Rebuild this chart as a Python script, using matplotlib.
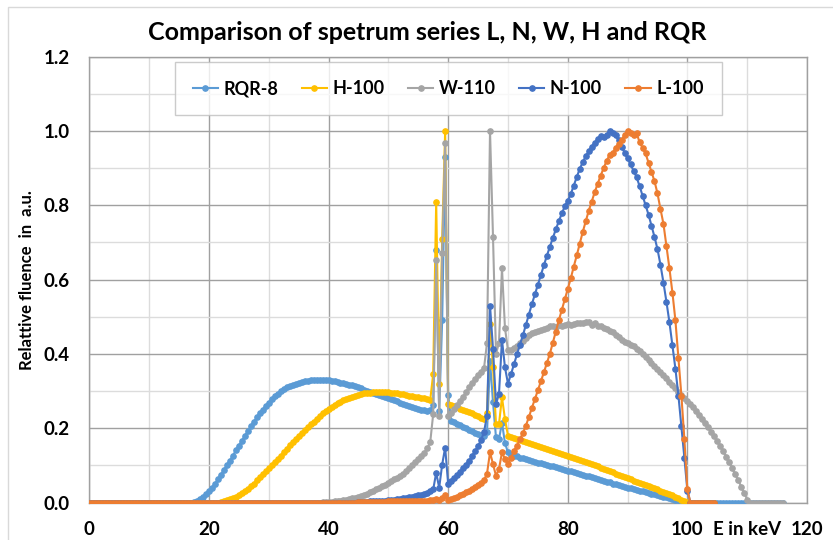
import numpy as np
import matplotlib
matplotlib.use("Agg")
import matplotlib.pyplot as plt
from matplotlib.ticker import MultipleLocator, FormatStrFormatter
from matplotlib.patches import Rectangle

plt.rcParams['font.family'] = ['Lato', 'DejaVu Sans']
plt.rcParams['font.weight'] = 'bold'

# energy grid in keV (0.5 keV bins), each series uses the first len(values) bins
energy = np.arange(0, 116.5, 0.5)

# RQR-8, one row = 5 keV (10 bins)
rqr8 = [
    0, 0, 0, 0, 0, 0, 0, 0, 0, 0,
    0, 0, 0, 0, 0, 0, 0, 0, 0, 0,
    0, 0, 0, 0, 0, 0, 0, 0, 0, 0,
    0, 0, 0, 0, 0, 0.001, 0.004, 0.009, 0.015, 0.022,
    0.03, 0.04, 0.05, 0.062, 0.075, 0.088, 0.1, 0.113, 0.126, 0.14,
    0.153, 0.166, 0.179, 0.192, 0.205, 0.217, 0.229, 0.24, 0.25, 0.26,
    0.269, 0.278, 0.286, 0.293, 0.299, 0.305, 0.31, 0.314, 0.317, 0.32,
    0.323, 0.325, 0.327, 0.328, 0.329, 0.33, 0.331, 0.331, 0.33, 0.33,
    0.329, 0.328, 0.327, 0.325, 0.323, 0.321, 0.319, 0.317, 0.315, 0.313,
    0.31, 0.307, 0.304, 0.301, 0.298, 0.296, 0.293, 0.29, 0.287, 0.284,
    0.281, 0.278, 0.275, 0.272, 0.269, 0.266, 0.263, 0.26, 0.257, 0.254,
    0.252, 0.25, 0.248, 0.246, 0.248, 0.262, 0.68, 0.245, 0.49, 0.93,
    0.29, 0.22, 0.216, 0.212, 0.208, 0.204, 0.2, 0.196, 0.192, 0.188,
    0.185, 0.182, 0.18, 0.19, 0.38, 0.27, 0.175, 0.17, 0.215, 0.16,
    0.135, 0.128, 0.126, 0.124, 0.121, 0.119, 0.117, 0.114, 0.112, 0.11,
    0.107, 0.105, 0.103, 0.101, 0.099, 0.097, 0.095, 0.093, 0.09, 0.088,
    0.086, 0.084, 0.082, 0.079, 0.077, 0.075, 0.072, 0.07, 0.068, 0.065,
    0.063, 0.061, 0.058, 0.056, 0.054, 0.051, 0.049, 0.047, 0.044, 0.042,
    0.04, 0.038, 0.036, 0.034, 0.032, 0.03, 0.028, 0.026, 0.024, 0.022,
    0.02, 0.018, 0.016, 0.014, 0.012, 0.01, 0.008, 0.006, 0.004, 0.002,
    0, 0, 0, 0, 0, 0, 0, 0, 0, 0,
    0, 0, 0, 0, 0, 0, 0, 0, 0, 0,
    0, 0, 0, 0, 0, 0, 0, 0, 0, 0,
    0, 0, 0,
]

h100 = [
    0, 0, 0, 0, 0, 0, 0, 0, 0, 0,
    0, 0, 0, 0, 0, 0, 0, 0, 0, 0,
    0, 0, 0, 0, 0, 0, 0, 0, 0, 0,
    0, 0, 0, 0, 0, 0, 0, 0, 0, 0,
    0, 0, 0, 0, 0.001, 0.003, 0.006, 0.009, 0.012, 0.016,
    0.02, 0.025, 0.031, 0.037, 0.044, 0.051, 0.06, 0.068, 0.076, 0.084,
    0.092, 0.1, 0.108, 0.117, 0.126, 0.135, 0.145, 0.155, 0.164, 0.172,
    0.18, 0.188, 0.196, 0.203, 0.21, 0.218, 0.226, 0.233, 0.24, 0.246,
    0.252, 0.257, 0.262, 0.267, 0.271, 0.275, 0.279, 0.282, 0.285, 0.288,
    0.29, 0.292, 0.294, 0.295, 0.296, 0.297, 0.298, 0.298, 0.298, 0.298,
    0.297, 0.296, 0.295, 0.294, 0.293, 0.291, 0.29, 0.288, 0.286, 0.284,
    0.283, 0.281, 0.28, 0.278, 0.276, 0.346, 0.81, 0.318, 0.71, 1.0,
    0.265, 0.262, 0.259, 0.256, 0.253, 0.25, 0.246, 0.243, 0.24, 0.236,
    0.232, 0.228, 0.225, 0.24, 0.48, 0.365, 0.211, 0.211, 0.283, 0.225,
    0.18, 0.177, 0.174, 0.171, 0.168, 0.165, 0.163, 0.16, 0.158, 0.155,
    0.153, 0.15, 0.147, 0.145, 0.142, 0.139, 0.136, 0.133, 0.13, 0.128,
    0.125, 0.122, 0.119, 0.117, 0.114, 0.111, 0.108, 0.105, 0.103, 0.1,
    0.097, 0.094, 0.091, 0.088, 0.084, 0.081, 0.078, 0.075, 0.071, 0.068,
    0.065, 0.062, 0.059, 0.056, 0.053, 0.05, 0.047, 0.044, 0.041, 0.038,
    0.035, 0.032, 0.029, 0.026, 0.023, 0.02, 0.016, 0.012, 0.008, 0.004,
    0.001, 0, 0, 0, 0, 0, 0, 0, 0, 0,
]

w110 = [
    0, 0, 0, 0, 0, 0, 0, 0, 0, 0,
    0, 0, 0, 0, 0, 0, 0, 0, 0, 0,
    0, 0, 0, 0, 0, 0, 0, 0, 0, 0,
    0, 0, 0, 0, 0, 0, 0, 0, 0, 0,
    0, 0, 0, 0, 0, 0, 0, 0, 0, 0,
    0, 0, 0, 0, 0, 0, 0, 0, 0, 0,
    0, 0, 0, 0, 0, 0, 0, 0, 0, 0,
    0, 0, 0, 0, 0, 0, 0, 0, 0.001, 0.001,
    0.002, 0.002, 0.003, 0.004, 0.005, 0.006, 0.007, 0.009, 0.011, 0.013,
    0.015, 0.018, 0.021, 0.024, 0.028, 0.032, 0.036, 0.04, 0.044, 0.048,
    0.052, 0.057, 0.062, 0.067, 0.072, 0.078, 0.085, 0.092, 0.1, 0.108,
    0.116, 0.125, 0.134, 0.146, 0.162, 0.238, 0.652, 0.234, 0.672, 0.968,
    0.234, 0.242, 0.252, 0.262, 0.273, 0.285, 0.297, 0.31, 0.322, 0.333,
    0.343, 0.352, 0.362, 0.43, 1.0, 0.715, 0.4, 0.43, 0.63, 0.47,
    0.41, 0.41, 0.415, 0.42, 0.428, 0.436, 0.443, 0.45, 0.455, 0.458,
    0.461, 0.464, 0.467, 0.47, 0.474, 0.476, 0.472, 0.478, 0.476, 0.479,
    0.48, 0.478, 0.481, 0.483, 0.482, 0.484, 0.486, 0.485, 0.478, 0.482,
    0.474, 0.476, 0.47, 0.468, 0.462, 0.458, 0.452, 0.445, 0.438, 0.432,
    0.428, 0.425, 0.42, 0.414, 0.408, 0.4, 0.392, 0.384, 0.376, 0.368,
    0.36, 0.352, 0.343, 0.334, 0.325, 0.316, 0.307, 0.298, 0.29, 0.282,
    0.274, 0.265, 0.256, 0.246, 0.236, 0.225, 0.214, 0.202, 0.19, 0.178,
    0.165, 0.152, 0.138, 0.123, 0.108, 0.092, 0.076, 0.06, 0.043, 0.026,
    0.008, 0, 0, 0, 0, 0, 0, 0, 0, 0,
    0, 0, 0,
]

n100 = [
    0, 0, 0, 0, 0, 0, 0, 0, 0, 0,
    0, 0, 0, 0, 0, 0, 0, 0, 0, 0,
    0, 0, 0, 0, 0, 0, 0, 0, 0, 0,
    0, 0, 0, 0, 0, 0, 0, 0, 0, 0,
    0, 0, 0, 0, 0, 0, 0, 0, 0, 0,
    0, 0, 0, 0, 0, 0, 0, 0, 0, 0,
    0, 0, 0, 0, 0, 0, 0, 0, 0, 0,
    0, 0, 0, 0, 0, 0, 0, 0, 0, 0,
    0, 0, 0, 0, 0, 0, 0, 0, 0, 0,
    0.001, 0.001, 0.002, 0.002, 0.003, 0.003, 0.004, 0.004, 0.005, 0.005,
    0.006, 0.007, 0.008, 0.009, 0.01, 0.011, 0.012, 0.014, 0.015, 0.017,
    0.019, 0.021, 0.023, 0.026, 0.03, 0.035, 0.08, 0.04, 0.102, 0.148,
    0.05, 0.058, 0.066, 0.074, 0.083, 0.092, 0.102, 0.113, 0.125, 0.138,
    0.152, 0.168, 0.19, 0.234, 0.53, 0.414, 0.265, 0.292, 0.438, 0.364,
    0.32, 0.345, 0.372, 0.4, 0.425, 0.45, 0.478, 0.506, 0.534, 0.56,
    0.585, 0.612, 0.638, 0.664, 0.688, 0.712, 0.735, 0.757, 0.778, 0.797,
    0.812, 0.83, 0.853, 0.876, 0.898, 0.916, 0.932, 0.945, 0.958, 0.968,
    0.978, 0.986, 0.983, 0.99, 1.0, 0.995, 0.988, 0.975, 0.958, 0.942,
    0.926, 0.91, 0.893, 0.876, 0.852, 0.826, 0.8, 0.775, 0.745, 0.715,
    0.682, 0.64, 0.592, 0.54, 0.485, 0.423, 0.36, 0.288, 0.205, 0.12,
    0.032, 0, 0, 0, 0, 0, 0, 0, 0, 0,
]

l100 = [
    0, 0, 0, 0, 0, 0, 0, 0, 0, 0,
    0, 0, 0, 0, 0, 0, 0, 0, 0, 0,
    0, 0, 0, 0, 0, 0, 0, 0, 0, 0,
    0, 0, 0, 0, 0, 0, 0, 0, 0, 0,
    0, 0, 0, 0, 0, 0, 0, 0, 0, 0,
    0, 0, 0, 0, 0, 0, 0, 0, 0, 0,
    0, 0, 0, 0, 0, 0, 0, 0, 0, 0,
    0, 0, 0, 0, 0, 0, 0, 0, 0, 0,
    0, 0, 0, 0, 0, 0, 0, 0, 0, 0,
    0.001, 0.001, 0.001, 0.001, 0.002, 0.002, 0.002, 0.002, 0.002, 0.002,
    0.003, 0.003, 0.003, 0.003, 0.003, 0.003, 0.004, 0.004, 0.004, 0.004,
    0.005, 0.005, 0.005, 0.005, 0.006, 0.006, 0.01, 0.006, 0.012, 0.02,
    0.008, 0.01, 0.013, 0.016, 0.019, 0.023, 0.027, 0.031, 0.036, 0.041,
    0.047, 0.053, 0.06, 0.078, 0.135, 0.104, 0.072, 0.09, 0.135, 0.117,
    0.104, 0.12, 0.138, 0.153, 0.17, 0.187, 0.207, 0.23, 0.255, 0.278,
    0.302, 0.326, 0.35, 0.375, 0.4, 0.43, 0.46, 0.49, 0.518, 0.547,
    0.575, 0.603, 0.635, 0.665, 0.697, 0.728, 0.757, 0.785, 0.81, 0.835,
    0.858, 0.88, 0.9, 0.92, 0.935, 0.94, 0.955, 0.965, 0.975, 0.99,
    1.0, 0.995, 0.99, 0.995, 0.97, 0.955, 0.94, 0.915, 0.89, 0.865,
    0.832, 0.79, 0.75, 0.69, 0.63, 0.565, 0.49, 0.39, 0.288, 0.17,
    0.035, 0, 0, 0, 0, 0, 0, 0, 0, 0,
]

series_names = ['RQR-8', 'H-100', 'W-110', 'N-100', 'L-100']
series_values = [rqr8, h100, w110, n100, l100]
colors = ['#5B9BD5', '#FFC000', '#A5A5A5', '#4472C4', '#ED7D31']

fig = plt.figure(figsize=(8.33, 5.40), dpi=100)
ax = fig.add_axes([89.3 / 833, 1 - 502.5 / 540, (807 - 89.3) / 833, (502.5 - 56.7) / 540])

for name, vals, c in zip(series_names, series_values, colors):
    ax.plot(energy[:len(vals)], vals, color=c, lw=1.5, marker='o', ms=3.8,
            label=name, zorder=3)

ax.set_xlim(0, 120)
ax.set_ylim(0, 1.2)
ax.xaxis.set_major_locator(MultipleLocator(20))
ax.xaxis.set_minor_locator(MultipleLocator(10))
ax.yaxis.set_major_locator(MultipleLocator(0.2))
ax.yaxis.set_minor_locator(MultipleLocator(0.1))
ax.yaxis.set_major_formatter(FormatStrFormatter('%.1f'))
ax.grid(which='major', color='#A0A0A0', lw=1)
ax.grid(which='minor', color='#DCDCDC', lw=1)
ax.set_axisbelow(True)
ax.tick_params(which='both', length=0)
ax.tick_params(axis='x', pad=13.5, labelsize=13.5)
ax.tick_params(axis='y', pad=14, labelsize=13.5)
for lab in ax.get_xticklabels() + ax.get_yticklabels():
    lab.set_fontweight('bold')
for s in ax.spines.values():
    s.set_color('#A0A0A0')
    s.set_linewidth(1)

ax.set_ylabel('Relattive fluence  in  a.u.', fontsize=12, fontweight='bold')
ax.yaxis.set_label_coords(-0.075, 0.5)

ax.annotate('E in keV', xy=(110, 0), xycoords=('data', 'axes fraction'),
            xytext=(0, -19.5), textcoords='offset points', ha='center', va='center',
            fontsize=13.5, fontweight='bold')

fig.text(427 / 833, 1 - 33 / 540, 'Comparison of spetrum series L, N, W, H and RQR',
         ha='center', va='center', fontsize=18, fontweight='bold')

leg = ax.legend(loc='upper center', bbox_to_anchor=(0.5, 0.988), ncol=5,
                frameon=True, fancybox=False, edgecolor='#BFBFBF',
                prop={'size': 13, 'weight': 'bold'}, borderpad=1.0,
                borderaxespad=0, handlelength=1.4, columnspacing=1.3,
                handletextpad=0.3)
leg.get_frame().set_linewidth(1)

# chart area border
fig.patches.append(Rectangle((8 / 833, -0.1), 1.2, (540 - 7) / 540 + 0.1,
                             transform=fig.transFigure, fill=False,
                             edgecolor='#D9D9D9', lw=1))

fig.savefig('out.png', dpi=100)
